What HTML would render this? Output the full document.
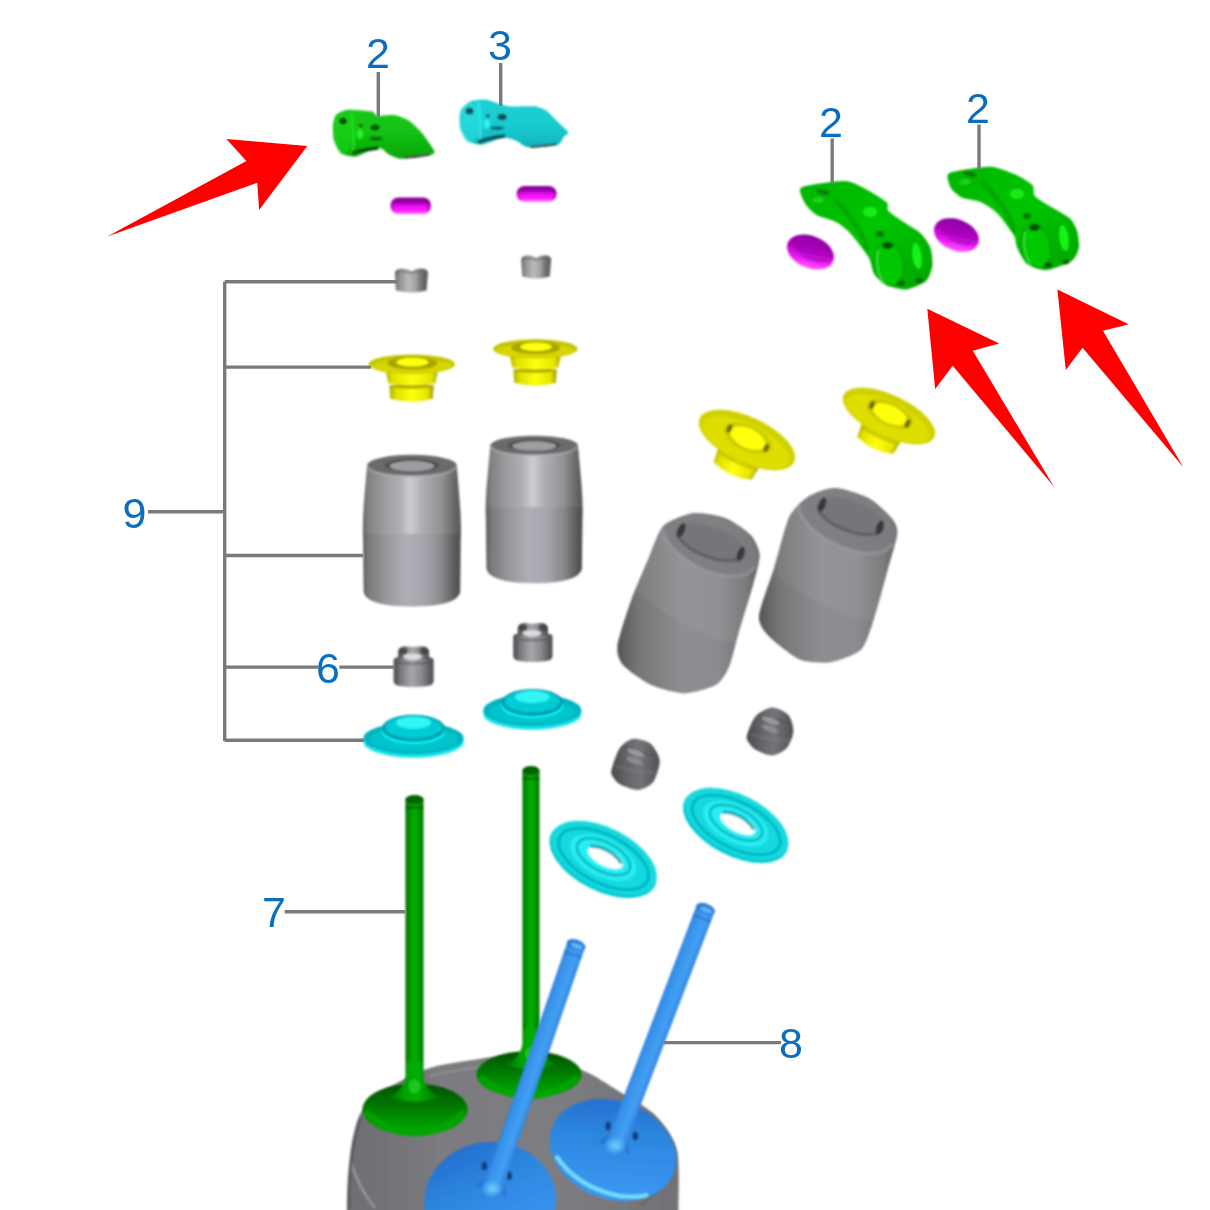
<!DOCTYPE html>
<html><head><meta charset="utf-8">
<style>
html,body{margin:0;padding:0;background:#fff;width:1210px;height:1210px;overflow:hidden}
svg{display:block}
.lbl{font-family:"Liberation Sans",sans-serif;font-size:43px;fill:#0a6ec0}
.ln{stroke:#7a7a7a;stroke-width:3.4;fill:none}
</style></head><body>
<svg width="1210" height="1210" viewBox="0 0 1210 1210">
<defs>
<filter id="bl" x="-30%" y="-60%" width="160%" height="220%"><feGaussianBlur stdDeviation="1.0"/></filter>
<filter id="blL" x="-10%" y="-10%" width="120%" height="120%" filterUnits="userSpaceOnUse"><feGaussianBlur stdDeviation="0.6"/></filter>
<filter id="bl2" x="-20%" y="-20%" width="140%" height="140%"><feGaussianBlur stdDeviation="1.5"/></filter>
<linearGradient id="gGreenV" x1="0" y1="0" x2="0" y2="1"><stop offset="0" stop-color="#18c818"/><stop offset="0.5" stop-color="#12c012"/><stop offset="1" stop-color="#0aa40a"/></linearGradient>
<linearGradient id="gCyanV" x1="0" y1="0" x2="0" y2="1"><stop offset="0" stop-color="#20d0d4"/><stop offset="0.5" stop-color="#18cccf"/><stop offset="1" stop-color="#10b4bc"/></linearGradient>
<linearGradient id="gMag" x1="0" y1="0" x2="0" y2="1"><stop offset="0" stop-color="#80008c"/><stop offset="0.3" stop-color="#a000b4"/><stop offset="0.55" stop-color="#f010f8"/><stop offset="0.8" stop-color="#ff20ff"/><stop offset="1" stop-color="#ff70ff"/></linearGradient>
<linearGradient id="gMagH" x1="0" y1="0" x2="1" y2="0"><stop offset="0" stop-color="rgba(120,0,140,0.35)"/><stop offset="0.15" stop-color="rgba(120,0,140,0)"/><stop offset="0.85" stop-color="rgba(120,0,140,0)"/><stop offset="1" stop-color="rgba(100,0,120,0.5)"/></linearGradient>
<linearGradient id="gCap" x1="0" y1="0" x2="1" y2="0"><stop offset="0" stop-color="#555"/><stop offset="0.1" stop-color="#8c8c8c"/><stop offset="0.4" stop-color="#bababa"/><stop offset="0.6" stop-color="#a8a8a8"/><stop offset="0.8" stop-color="#727272"/><stop offset="1" stop-color="#555"/></linearGradient>
<linearGradient id="gYelH" x1="0" y1="0" x2="1" y2="0"><stop offset="0" stop-color="#a8a800"/><stop offset="0.15" stop-color="#e0e000"/><stop offset="0.5" stop-color="#ffff10"/><stop offset="0.85" stop-color="#e6e600"/><stop offset="1" stop-color="#9a9a00"/></linearGradient>
<linearGradient id="gCyl" x1="0" y1="0" x2="1" y2="0"><stop offset="0" stop-color="#606060"/><stop offset="0.08" stop-color="#7c7c7c"/><stop offset="0.35" stop-color="#9a9a9a"/><stop offset="0.5" stop-color="#acacb0"/><stop offset="0.65" stop-color="#9c9c9c"/><stop offset="0.9" stop-color="#7a7a7a"/><stop offset="1" stop-color="#5a5a5a"/></linearGradient>
<linearGradient id="gCylV" x1="0" y1="0" x2="0" y2="1"><stop offset="0" stop-color="rgba(255,255,255,0.06)"/><stop offset="0.5" stop-color="rgba(255,255,255,0.05)"/><stop offset="0.52" stop-color="rgba(0,0,0,0.0)"/><stop offset="1" stop-color="rgba(0,0,0,0.04)"/></linearGradient>
<linearGradient id="gSeal" x1="0" y1="0" x2="1" y2="0"><stop offset="0" stop-color="#555"/><stop offset="0.25" stop-color="#808080"/><stop offset="0.5" stop-color="#a4a4a4"/><stop offset="0.75" stop-color="#808080"/><stop offset="1" stop-color="#505050"/></linearGradient>
<linearGradient id="gStemG" x1="0" y1="0" x2="1" y2="0"><stop offset="0" stop-color="#006c00"/><stop offset="0.3" stop-color="#00a000"/><stop offset="0.55" stop-color="#02b002"/><stop offset="1" stop-color="#007400"/></linearGradient>
<linearGradient id="gCyl2" x1="0" y1="0" x2="1" y2="0"><stop offset="0" stop-color="#5c5c5c"/><stop offset="0.06" stop-color="#7a7a7c"/><stop offset="0.25" stop-color="#9a9a9e"/><stop offset="0.45" stop-color="#aeaeb6"/><stop offset="0.62" stop-color="#a6a6ae"/><stop offset="0.8" stop-color="#8a8a8c"/><stop offset="0.93" stop-color="#5e5e5e"/><stop offset="1" stop-color="#4a4a4a"/></linearGradient>
<linearGradient id="gHi" x1="0" y1="0" x2="1" y2="0"><stop offset="0" stop-color="rgba(255,255,255,0)"/><stop offset="0.5" stop-color="rgba(255,255,255,0.35)"/><stop offset="1" stop-color="rgba(255,255,255,0)"/></linearGradient>
<linearGradient id="gSeal2" x1="0" y1="0" x2="1" y2="0"><stop offset="0" stop-color="#4a4a4c"/><stop offset="0.2" stop-color="#7e7e82"/><stop offset="0.45" stop-color="#a6a6ac"/><stop offset="0.7" stop-color="#8a8a8e"/><stop offset="1" stop-color="#4a4a4c"/></linearGradient>
<linearGradient id="gBase" x1="0" y1="0" x2="1" y2="0"><stop offset="0" stop-color="#6e6e72"/><stop offset="0.3" stop-color="#7c7c80"/><stop offset="0.6" stop-color="#7e7e82"/><stop offset="1" stop-color="#727276"/></linearGradient>
<linearGradient id="gGHead" x1="0" y1="0" x2="0" y2="1"><stop offset="0" stop-color="#005200"/><stop offset="0.35" stop-color="#007000"/><stop offset="0.7" stop-color="#009400"/><stop offset="1" stop-color="#00ac00"/></linearGradient>
<linearGradient id="gBHead" x1="0" y1="0" x2="0.4" y2="1"><stop offset="0" stop-color="#2266c8"/><stop offset="0.45" stop-color="#2c86de"/><stop offset="1" stop-color="#3c96f0"/></linearGradient>
<linearGradient id="gBStem" x1="0" y1="0" x2="1" y2="0"><stop offset="0" stop-color="#1e62c4"/><stop offset="0.3" stop-color="#3690e8"/><stop offset="0.6" stop-color="#44a0f4"/><stop offset="1" stop-color="#2068c8"/></linearGradient>
<radialGradient id="gBHi" cx="0.5" cy="0.5" r="0.5"><stop offset="0" stop-color="rgba(120,210,255,0.9)"/><stop offset="1" stop-color="rgba(120,210,255,0)"/></radialGradient>
<linearGradient id="gGreenR" x1="0" y1="0" x2="1" y2="1"><stop offset="0" stop-color="#02b402"/><stop offset="0.5" stop-color="#06c406"/><stop offset="1" stop-color="#00a400"/></linearGradient>
<linearGradient id="gMagT" x1="0" y1="0" x2="0.3" y2="1"><stop offset="0" stop-color="#7a0090"/><stop offset="0.45" stop-color="#a800b8"/><stop offset="0.8" stop-color="#e818f0"/><stop offset="1" stop-color="#ff48ff"/></linearGradient>
<linearGradient id="gCylT" x1="0" y1="0" x2="1" y2="0"><stop offset="0" stop-color="#565658"/><stop offset="0.15" stop-color="#767678"/><stop offset="0.45" stop-color="#8e8e92"/><stop offset="0.7" stop-color="#8c8c90"/><stop offset="0.9" stop-color="#747476"/><stop offset="1" stop-color="#58585a"/></linearGradient>
<clipPath id="clipT1"><path d="M662.9 526.4C668.1 521.0 685.3 514.2 692.6 513.2C699.9 512.2 718.9 515.7 725.7 518.2C732.5 520.7 746.5 530.5 750.5 534.7C754.5 538.9 759.2 548.9 759.6 554.5C760.0 560.1 756.2 573.5 753.8 582.6C751.4 591.7 741.8 622.4 738.9 632.2C736.0 642.0 731.7 660.8 729.0 667.0C726.3 673.2 721.0 682.0 715.8 685.1C710.6 688.2 691.9 693.4 684.4 693.4C676.9 693.4 658.4 688.4 651.3 685.1C644.2 681.8 627.2 669.9 623.2 665.3C619.2 660.7 616.4 653.2 617.4 645.5C618.4 637.8 627.9 609.2 631.5 599.2C635.1 589.2 644.3 568.0 648.0 559.5C651.7 551.0 657.7 531.8 662.9 526.4Z"/></clipPath>
<clipPath id="clipT2"><path d="M789.6 516.1C793.8 507.7 804.7 498.9 810.1 495.6C815.5 492.3 828.8 487.6 835.7 487.9C842.6 488.2 862.4 494.6 869.0 498.2C875.6 501.8 888.8 514.5 892.1 518.7C895.4 522.9 897.8 527.7 897.2 534.0C896.6 540.3 889.7 562.6 887.0 572.5C884.3 582.4 877.1 609.6 874.1 618.6C871.1 627.6 866.4 644.3 861.3 649.4C856.2 654.5 837.8 661.0 830.6 662.2C823.4 663.4 807.0 662.6 799.8 659.6C792.6 656.6 773.9 641.6 769.1 636.5C764.3 631.4 758.3 624.1 758.9 616.0C759.5 607.9 770.6 579.1 774.2 567.4C777.8 555.7 785.4 524.5 789.6 516.1Z"/></clipPath>
<linearGradient id="gSealT" x1="0" y1="0" x2="1" y2="0"><stop offset="0" stop-color="#4a4a4e"/><stop offset="0.4" stop-color="#6a6a6e"/><stop offset="0.6" stop-color="#747478"/><stop offset="1" stop-color="#505054"/></linearGradient>
<clipPath id="clipS3"><path d="M611.6 769.4C612.6 765.7 616.9 752.1 619.8 748.0C622.7 743.9 629.0 739.5 633.0 738.8C637.0 738.1 646.3 740.9 649.6 743.0C652.9 745.1 656.6 751.6 657.9 754.5C659.2 757.4 660.2 760.8 659.5 764.5C658.8 768.2 655.8 779.2 652.9 782.6C650.0 786.0 642.4 789.8 638.0 790.0C633.6 790.2 623.2 786.2 619.8 784.3C616.4 782.4 613.5 778.0 612.4 776.0C611.3 774.0 610.6 773.1 611.6 769.4Z"/></clipPath>
<clipPath id="clipS4"><path d="M747.1 734.7C748.1 731.4 752.1 720.1 755.4 716.5C758.7 712.9 767.5 707.6 771.9 707.4C776.3 707.2 785.5 711.7 788.4 714.9C791.3 718.1 793.6 727.0 793.4 731.4C793.2 735.8 789.7 744.7 786.8 747.9C783.9 751.1 776.1 755.2 771.9 755.4C767.7 755.6 758.6 751.5 755.4 749.6C752.2 747.7 749.0 743.3 747.9 741.3C746.8 739.3 746.1 738.0 747.1 734.7Z"/></clipPath>
</defs>
<rect width="1210" height="1210" fill="#fff"/>
<g id="parts">
<g filter="url(#bl)"><path d="M336.1 114.7C337.5 113.2 343.3 110.2 346.9 109.9C350.4 109.6 368.6 110.9 371.6 111.5C374.6 112.1 375.9 115.4 376.9 115.8C377.9 116.2 379.4 115.9 381.2 115.8C383.0 115.7 392.5 114.8 395.2 115.2C397.9 115.6 405.4 118.3 408.1 120.1C410.8 121.9 419.4 130.0 422.0 133.0C424.6 136.0 432.7 148.1 433.9 150.1C435.1 152.1 434.5 152.9 433.9 153.4C433.2 153.9 430.6 155.0 427.4 155.5C424.2 156.0 405.5 158.8 401.6 158.7C397.7 158.6 390.7 155.4 388.7 154.4C386.7 153.4 383.2 148.8 381.2 148.5C379.2 148.2 370.9 150.4 368.3 151.2C365.7 152.0 358.1 156.4 355.4 156.6C352.7 156.8 343.6 155.0 341.5 153.4C339.4 151.8 334.9 143.3 334.0 140.5C333.1 137.7 332.7 128.0 332.9 125.4C333.1 122.8 334.7 116.2 336.1 114.7Z" fill="url(#gGreenV)"/><ellipse cx="343" cy="134" rx="9" ry="20" fill="#22e022" opacity="0.45"/><ellipse cx="343" cy="121" rx="4" ry="3.5" fill="#064e06"/><path d="M351 113 Q356 134 352 154" stroke="#22e622" stroke-width="3" fill="none" opacity="0.7"/><ellipse cx="375" cy="127.5" rx="4.5" ry="3" fill="#064e06"/><ellipse cx="361" cy="125.5" rx="2" ry="1.8" fill="#0a5a0a"/><ellipse cx="376" cy="138.5" rx="6.5" ry="2" fill="#0a6a0a"/><ellipse cx="360" cy="134" rx="3" ry="5" fill="#30ff30" opacity="0.8"/><path d="M352 153 Q365 149 378 148" stroke="#064a06" stroke-width="3.5" fill="none"/><path d="M404 157.5 Q418 157 430 154.5" stroke="#3a3a3a" stroke-width="1.8" fill="none"/></g>
<g filter="url(#bl)"><path d="M461.8 108.6C463.0 107.1 469.1 102.0 471.5 101.1C473.9 100.2 482.5 99.2 485.4 99.5C488.3 99.8 498.0 103.6 500.5 104.3C503.0 105.0 506.7 106.3 510.2 106.5C513.7 106.7 532.2 106.1 535.9 106.5C539.5 106.9 544.6 109.3 546.7 110.8C548.9 112.3 555.2 119.3 557.4 121.5C559.5 123.7 567.6 130.8 568.2 132.3C568.9 133.8 565.0 135.3 563.9 136.6C562.8 137.9 560.9 144.1 557.4 145.2C553.9 146.3 532.5 147.7 528.4 147.3C524.3 146.9 519.1 141.9 516.6 140.9C514.1 139.9 507.1 137.2 503.7 137.6C500.3 138.0 485.7 144.3 482.2 144.6C478.7 144.9 470.5 142.6 468.3 140.9C466.1 139.2 461.1 130.5 460.2 128.0C459.3 125.5 459.5 118.0 459.7 116.1C459.9 114.2 460.6 110.1 461.8 108.6Z" fill="url(#gCyanV)"/><ellipse cx="470" cy="123" rx="10" ry="20" fill="#30e6e6" opacity="0.45"/><ellipse cx="469.5" cy="111" rx="4" ry="3.5" fill="#0a4e5a"/><path d="M478 102 Q483 124 479 143" stroke="#30f0f0" stroke-width="3" fill="none" opacity="0.7"/><ellipse cx="502" cy="117" rx="4.5" ry="3.2" fill="#0a4450"/><ellipse cx="488" cy="116" rx="2" ry="1.8" fill="#0a5a66"/><ellipse cx="497" cy="128" rx="7" ry="2" fill="#0a6a76"/><ellipse cx="487" cy="124" rx="3" ry="5" fill="#40ffff" opacity="0.7"/><path d="M478 142 Q492 137 505 136" stroke="#0a4050" stroke-width="3.5" fill="none"/><path d="M530 147 Q545 146 556 144" stroke="#3a3a3a" stroke-width="1.8" fill="none"/></g>
<g filter="url(#bl)"><rect x="390.5" y="197.5" width="40.5" height="16.5" rx="8" ry="8" fill="url(#gMag)"/><rect x="390.5" y="197.5" width="40.5" height="16.5" rx="8" ry="8" fill="url(#gMagH)"/></g>
<g filter="url(#bl)"><rect x="516.6" y="186" width="40" height="15.7" rx="8" ry="7.8" fill="url(#gMag)"/><rect x="516.6" y="186" width="40" height="15.7" rx="8" ry="7.8" fill="url(#gMagH)"/></g>
<g filter="url(#bl)"><path d="M395 272.6 Q396 268.1 403.25 268.6 Q409.85 269.1 411.5 271.6 Q413.15 269.1 419.75 268.6 Q427 268.1 428 272.6 L426.5 290.6 Q411.5 294.6 396 290.6Z" fill="url(#gCap)"/><path d="M396 272.6 Q403.25 269.6 411.5 273.1 Q419.75 269.6 427 272.6" stroke="#666" stroke-width="2" fill="none" opacity="0.7"/></g>
<g filter="url(#bl)"><path d="M521.3 259.3 Q522.3 254.8 528.775 255.3 Q534.755 255.8 536.25 258.3 Q537.745 255.8 543.725 255.3 Q550.2 254.8 551.2 259.3 L549.7 276.4 Q536.25 280.4 522.3 276.4Z" fill="url(#gCap)"/><path d="M522.3 259.3 Q528.775 256.3 536.25 259.8 Q543.725 256.3 550.2 259.3" stroke="#666" stroke-width="2" fill="none" opacity="0.7"/></g>
<g filter="url(#bl)"><path d="M389.3 385.3 L433.8 385.3 L432.8 398.8 Q411.8 404.8 390.3 398.8Z" fill="url(#gYelH)"/><ellipse cx="411.8" cy="386.3" rx="22.0" ry="2.5" fill="#b0b000"/><path d="M384.3 364.3 L439.3 364.3 L435.3 383.3 Q411.8 387.3 388.3 383.3Z" fill="url(#gYelH)"/><ellipse cx="411.8" cy="364.3" rx="43.2" ry="9.8" fill="#c4c400"/><ellipse cx="411.8" cy="366.3" rx="40.2" ry="7.300000000000001" fill="#e4e400" opacity="0.55"/><ellipse cx="412.3" cy="363.1" rx="25.0" ry="6.5" fill="#a8a400"/><ellipse cx="412.5" cy="362.1" rx="16.0" ry="4.4" fill="#ffff10"/></g>
<g filter="url(#bl)"><path d="M513.25 369.484 L556.8599999999999 369.484 L555.8599999999999 382.654 Q535.3 388.654 514.25 382.654Z" fill="url(#gYelH)"/><ellipse cx="535.3" cy="370.484" rx="21.56" ry="2.45" fill="#b0b000"/><path d="M508.34999999999997 348.904 L562.25 348.904 L558.25 367.484 Q535.3 371.484 512.3499999999999 367.484Z" fill="url(#gYelH)"/><ellipse cx="535.3" cy="348.904" rx="42.336" ry="9.604000000000001" fill="#c4c400"/><ellipse cx="535.3" cy="350.864" rx="39.336" ry="7.104000000000001" fill="#e4e400" opacity="0.55"/><ellipse cx="535.8" cy="347.728" rx="24.5" ry="6.37" fill="#a8a400"/><ellipse cx="536.0" cy="346.748" rx="15.68" ry="4.312" fill="#ffff10"/></g>
<g filter="url(#bl)"><path d="M367.1 465.3 C364.1 500.3 362.1 520.3 363.1 540.3 L363.6 591.5 C365.1 603.5 389.5 606.5 411.9 606.5 C434.29999999999995 606.5 458.7 603.5 460.2 591.5 L460.7 540.3 C461.7 520.3 459.7 500.3 456.7 465.3 Z" fill="url(#gCyl2)"/><path d="M367.1 465.3 C364.1 500.3 362.1 520.3 363.1 533.998 L460.7 533.998 C461.7 520.3 459.7 500.3 456.7 465.3Z" fill="rgba(255,255,255,0.07)"/><rect x="399.9" y="473.3" width="22" height="60.698000000000036" fill="url(#gHi)"/><ellipse cx="411.9" cy="465.3" rx="44.79999999999998" ry="10.5" fill="#6a6a6c"/><ellipse cx="411.9" cy="465.3" rx="26.87999999999999" ry="6.51" fill="#4e4e50"/><ellipse cx="411.9" cy="466.1" rx="22.39999999999999" ry="5.25" fill="#9e9ea0"/><path d="M368.1 466.3 A43.79999999999998 10.5 0 0 0 455.7 466.3" stroke="#b4b4b8" stroke-width="2" fill="none" opacity="0.6"/></g>
<g filter="url(#bl)"><path d="M490.4 445.3 C487.09999999999997 480.3 484.9 500.3 485.9 520.3 L486.4 568.3 C487.9 580.3 512.275 583.3 534.15 583.3 C556.025 583.3 580.4 580.3 581.9 568.3 L582.4 520.3 C583.4 500.3 581.1999999999999 480.3 577.9 445.3 Z" fill="url(#gCyl2)"/><path d="M490.4 445.3 C487.09999999999997 480.3 484.9 500.3 485.9 506.95 L582.4 506.95 C583.4 500.3 581.1999999999999 480.3 577.9 445.3Z" fill="rgba(255,255,255,0.07)"/><rect x="522.15" y="453.3" width="22" height="53.64999999999998" fill="url(#gHi)"/><ellipse cx="534.15" cy="445.3" rx="43.75" ry="9.5" fill="#6a6a6c"/><ellipse cx="534.15" cy="445.3" rx="26.25" ry="5.89" fill="#4e4e50"/><ellipse cx="534.15" cy="446.1" rx="21.875" ry="4.75" fill="#9e9ea0"/><path d="M491.4 446.3 A42.75 9.5 0 0 0 576.9 446.3" stroke="#b4b4b8" stroke-width="2" fill="none" opacity="0.6"/></g>
<g filter="url(#bl)"><path d="M393.6 660.1999999999999 Q393.6 657.1999999999999 398.6 657.1999999999999 L428.6 657.1999999999999 Q433.6 657.1999999999999 433.6 660.1999999999999 L433.6 681 Q433.6 685 427.6 686 Q413.6 688 399.6 686 Q393.6 685 393.6 681Z" fill="url(#gSeal2)"/><path d="M398.1 659.1999999999999 L398.1 651.8 Q399.1 645.8 407.40000000000003 646.3 Q413.6 647.8 419.8 646.3 Q428.1 645.8 429.1 651.8 L429.1 659.1999999999999Z" fill="url(#gSeal2)"/><ellipse cx="403.1" cy="650.8" rx="4.5" ry="3.5" fill="#3c3c3e" opacity="0.8"/><ellipse cx="424.1" cy="650.8" rx="4.5" ry="3.5" fill="#3c3c3e" opacity="0.8"/><ellipse cx="412.6" cy="656.6999999999999" rx="9.299999999999999" ry="3.2" fill="#dcdcde"/><path d="M394.6 662.1999999999999 Q413.6 665.1999999999999 432.6 662.1999999999999" stroke="#555" stroke-width="2" fill="none" opacity="0.6"/></g>
<g filter="url(#bl)"><path d="M513.2 636.8 Q513.2 633.8 518.2 633.8 L547.5 633.8 Q552.5 633.8 552.5 636.8 L552.5 656 Q552.5 660 546.5 661 Q532.85 663 519.2 661 Q513.2 660 513.2 656Z" fill="url(#gSeal2)"/><path d="M517.7 635.8 L517.7 628.4 Q518.7 622.4 526.7900000000001 622.9 Q532.85 624.4 538.91 622.9 Q547.0 622.4 548.0 628.4 L548.0 635.8Z" fill="url(#gSeal2)"/><ellipse cx="522.7" cy="627.4" rx="4.5" ry="3.5" fill="#3c3c3e" opacity="0.8"/><ellipse cx="543.0" cy="627.4" rx="4.5" ry="3.5" fill="#3c3c3e" opacity="0.8"/><ellipse cx="531.85" cy="633.3" rx="9.089999999999986" ry="3.2" fill="#dcdcde"/><path d="M514.2 638.8 Q532.85 641.8 551.5 638.8" stroke="#555" stroke-width="2" fill="none" opacity="0.6"/></g>
<g filter="url(#bl)"><ellipse cx="413.5" cy="741.7" rx="50.10000000000002" ry="16" fill="#18e4ea"/><ellipse cx="413.5" cy="738.2" rx="50.10000000000002" ry="16" fill="#00b4c0"/><ellipse cx="413.5" cy="739.7" rx="44.10000000000002" ry="12" fill="#00c4cc"/><ellipse cx="413.5" cy="731.3" rx="32.064000000000014" ry="13" fill="#08f0f2"/><ellipse cx="413.5" cy="728.3" rx="31.563000000000013" ry="13.5" fill="#009cac"/><ellipse cx="413.5" cy="727.3" rx="28.056000000000015" ry="11" fill="#00ccd4"/><ellipse cx="413.5" cy="722.5999999999999" rx="17.535000000000007" ry="6.2" fill="#30f6f6"/></g>
<g filter="url(#bl)"><ellipse cx="532.35" cy="713.8" rx="49.04999999999998" ry="16" fill="#18e4ea"/><ellipse cx="532.35" cy="710.3" rx="49.04999999999998" ry="16" fill="#00b4c0"/><ellipse cx="532.35" cy="711.8" rx="43.04999999999998" ry="12" fill="#00c4cc"/><ellipse cx="532.35" cy="705.5" rx="31.39199999999999" ry="13" fill="#08f0f2"/><ellipse cx="532.35" cy="702.5" rx="30.901499999999988" ry="13.5" fill="#009cac"/><ellipse cx="532.35" cy="701.5" rx="27.467999999999993" ry="11" fill="#00ccd4"/><ellipse cx="532.35" cy="696.8" rx="17.167499999999993" ry="6.2" fill="#30f6f6"/></g>
<g filter="url(#bl)"><path d="M346.8 1212.0C346.9 1208.0 347.0 1190.7 347.6 1181.8C348.2 1172.9 349.7 1154.6 351.4 1145.5C353.1 1136.4 356.2 1120.9 360.5 1113.6C364.8 1106.3 374.6 1097.0 383.4 1091.0C392.2 1085.0 415.2 1073.0 426.8 1068.9C438.4 1064.8 459.4 1061.9 470.2 1060.2C481.0 1058.5 497.2 1055.7 507.8 1055.9C518.4 1056.1 539.6 1059.9 550.0 1062.0C560.4 1064.1 576.9 1068.0 585.9 1071.8C594.9 1075.6 608.4 1084.8 617.7 1090.6C627.0 1096.4 647.4 1107.3 655.3 1115.2C663.2 1123.1 673.9 1137.0 677.0 1149.9C680.1 1162.8 678.2 1203.7 678.4 1212.0Z" fill="url(#gBase)"/><path d="M351 1163 Q360 1190 375 1208" stroke="#96969a" stroke-width="2.5" fill="none"/><path d="M349 1210 Q349 1150 361 1117" stroke="#55555a" stroke-width="2" fill="none"/><path d="M430 1076 Q470 1066 520 1064" stroke="#a0a0a0" stroke-width="2" fill="none" opacity="0.6"/><path d="M640 1205 Q665 1190 676 1160" stroke="#666" stroke-width="2" fill="none"/></g>
<g filter="url(#bl)"><ellipse cx="415" cy="1109.5" rx="52.5" ry="26" fill="url(#gGHead)"/><path d="M365.5 1112.5 Q415 1153.7 464.5 1112.5" stroke="#00a800" stroke-width="7" fill="none" opacity="0.75"/><rect x="405.5" y="798.4" width="18.0" height="281.1" fill="url(#gStemG)"/><path d="M407.0 1061.5 C407.0 1081.5 402.5 1091.5 388.5 1097.5 Q414.5 1105.5 440.5 1097.5 C426.5 1091.5 422.0 1081.5 422.0 1061.5Z" fill="url(#gStemG)"/><ellipse cx="414.5" cy="799.4" rx="9.0" ry="4.5" fill="#006400"/><rect x="405.5" y="806.4" width="18.0" height="2.5" fill="#006000" opacity="0.7"/><ellipse cx="414.5" cy="1086.5" rx="6" ry="7" fill="#30dc30" opacity="0.55"/></g>
<g filter="url(#bl)"><ellipse cx="529" cy="1074.5" rx="52.5" ry="23.5" fill="url(#gGHead)"/><path d="M479.5 1077.5 Q529 1114.45 578.5 1077.5" stroke="#00a800" stroke-width="7" fill="none" opacity="0.75"/><rect x="522.5" y="769.4" width="17.0" height="277.6" fill="url(#gStemG)"/><path d="M524.0 1029.0 C524.0 1049.0 519.0 1059.0 505.0 1065.0 Q531.0 1073.0 557.0 1065.0 C543.0 1059.0 538.0 1049.0 538.0 1029.0Z" fill="url(#gStemG)"/><ellipse cx="531.0" cy="770.4" rx="8.5" ry="4.5" fill="#006400"/><rect x="522.5" y="777.4" width="17.0" height="2.5" fill="#006000" opacity="0.7"/><ellipse cx="531.0" cy="1054.0" rx="6" ry="7" fill="#30dc30" opacity="0.55"/></g>
<g filter="url(#bl)"><ellipse cx="490" cy="1201" rx="66" ry="59" transform="rotate(-6 490 1201)" fill="url(#gBHead)"/><ellipse cx="484.4" cy="1165.9" rx="3" ry="4.5" fill="#14306a" opacity="0.8"/><ellipse cx="509.2" cy="1175.8" rx="3" ry="4.5" fill="#14306a" opacity="0.8"/><g transform="translate(577.5 941) rotate(19.022045966769667)"><path d="M-9.25 4 L9.25 4 L9.25 232.32470337350998 C9.25 250.32470337350998 12.25 258.32470337351 16.25 264.32470337351 L-16.25 264.32470337351 C-12.25 258.32470337351 -9.25 250.32470337350998 -9.25 232.32470337350998Z" fill="url(#gBStem)"/><ellipse cx="0" cy="4" rx="9.75" ry="5" fill="#2a7ad8"/><ellipse cx="1" cy="5" rx="6.25" ry="2.5" fill="#60b4f6"/><rect x="-9.25" y="13" width="18.5" height="2.5" fill="#2066c0" opacity="0.5"/></g><ellipse cx="492" cy="1189" rx="11" ry="9" fill="url(#gBHi)"/></g>
<g filter="url(#bl)"><ellipse cx="613" cy="1150" rx="65" ry="49" transform="rotate(20 613 1150)" fill="url(#gBHead)"/><path d="M556 1156 Q578 1188 620 1196 Q636 1198 648 1195" stroke="#78e6ff" stroke-width="4" fill="none" opacity="0.9"/><ellipse cx="608.2" cy="1126" rx="3" ry="4.5" fill="#14306a" opacity="0.8"/><ellipse cx="635.4" cy="1135.9" rx="3" ry="4.5" fill="#14306a" opacity="0.8"/><g transform="translate(707 905) rotate(20.89399281302663)"><path d="M-9.5 4 L9.5 4 L9.5 227.96317566660554 C9.5 245.96317566660554 12.5 253.96317566660554 16.5 259.96317566660554 L-16.5 259.96317566660554 C-12.5 253.96317566660554 -9.5 245.96317566660554 -9.5 227.96317566660554Z" fill="url(#gBStem)"/><ellipse cx="0" cy="4" rx="10.0" ry="5" fill="#2a7ad8"/><ellipse cx="1" cy="5" rx="6.5" ry="2.5" fill="#60b4f6"/><rect x="-9.5" y="13" width="19" height="2.5" fill="#2066c0" opacity="0.5"/></g><ellipse cx="615" cy="1146" rx="11" ry="9" fill="url(#gBHi)"/></g>
<g filter="url(#bl)"><path d="M800.4 188.3C802.4 185.9 816.6 184.1 822.1 183.3C827.6 182.5 842.1 180.5 847.4 181.2C852.6 181.9 862.5 187.2 867.1 189.7C871.7 192.2 884.3 199.9 886.8 202.3C889.3 204.8 886.2 208.4 888.2 210.7C890.2 213.0 899.8 219.4 903.6 222.0C907.4 224.6 917.4 230.2 920.5 233.2C923.6 236.2 928.9 243.5 930.3 247.3C931.7 251.1 932.9 261.6 932.4 265.5C931.9 269.4 929.1 278.2 926.1 281.0C923.1 283.8 911.0 288.9 906.4 289.4C901.8 289.9 890.6 287.0 886.8 285.2C883.0 283.4 876.2 277.3 874.1 274.0C872.0 270.7 871.3 261.9 868.5 257.1C865.7 252.3 854.0 237.3 850.2 233.2C846.4 229.1 840.1 224.1 836.2 222.0C832.3 219.9 820.1 217.1 816.5 215.0C812.9 212.9 807.2 206.8 805.3 203.7C803.4 200.6 798.4 190.7 800.4 188.3Z" fill="url(#gGreenR)"/><ellipse cx="823" cy="192" rx="7" ry="2.5" fill="#0a7a0a" transform="rotate(15 823 192)"/><ellipse cx="818" cy="200" rx="6" ry="3" fill="#30e030" opacity="0.6"/><ellipse cx="870" cy="212" rx="7" ry="5" fill="#20ff20" opacity="0.7"/><path d="M835 200 Q858 222 868 250" stroke="#049004" stroke-width="5" fill="none" opacity="0.5"/><ellipse cx="880" cy="234" rx="4" ry="3" fill="#065a06" opacity="0.8"/><ellipse cx="889" cy="264" rx="14" ry="22" transform="rotate(-12 889 264)" fill="#06c806" stroke="#0a9a0a" stroke-width="1.6"/><path d="M878 250 Q874 268 884 284" stroke="#40f040" stroke-width="2" fill="none" opacity="0.7"/><ellipse cx="887.6" cy="245.5" rx="5.5" ry="3.5" fill="#045004"/><ellipse cx="917" cy="256" rx="4.5" ry="13" transform="rotate(-8 917 256)" fill="#18ff18" opacity="0.85"/><ellipse cx="901" cy="283" rx="4" ry="2.5" fill="#033a03" opacity="0.8"/><ellipse cx="919" cy="280" rx="3.5" ry="2.5" fill="#033a03" opacity="0.7"/></g>
<g filter="url(#bl)"><path d="M948.1 173.9C950.2 171.7 964.0 169.8 969.2 169.0C974.5 168.2 987.7 166.2 993.1 166.9C998.5 167.6 1010.9 172.5 1015.5 174.6C1020.1 176.7 1030.1 182.6 1032.4 185.1C1034.7 187.6 1032.6 193.6 1035.2 196.4C1037.8 199.2 1050.8 206.4 1054.9 209.0C1059.0 211.6 1067.7 216.2 1070.3 218.8C1072.9 221.4 1076.3 228.1 1077.3 231.5C1078.3 234.9 1079.5 244.9 1078.8 248.3C1078.1 251.7 1075.5 258.5 1071.7 261.0C1067.9 263.5 1051.6 269.8 1046.4 270.1C1041.2 270.4 1030.2 266.5 1026.8 263.8C1023.4 261.1 1018.4 250.2 1016.9 246.9C1015.4 243.6 1016.4 239.6 1014.1 235.7C1011.8 231.8 1001.2 217.1 997.3 213.2C993.4 209.3 984.5 203.8 980.4 202.0C976.3 200.2 965.5 199.4 962.1 197.8C958.7 196.2 952.5 190.8 950.9 188.0C949.3 185.2 946.0 176.1 948.1 173.9Z" fill="url(#gGreenR)"/><ellipse cx="970" cy="174" rx="7" ry="2.5" fill="#0a7a0a" transform="rotate(15 970 174)"/><ellipse cx="965" cy="182" rx="6" ry="3" fill="#30e030" opacity="0.6"/><ellipse cx="1017" cy="194" rx="7" ry="5" fill="#20ff20" opacity="0.7"/><path d="M982 182 Q1005 204 1015 232" stroke="#049004" stroke-width="5" fill="none" opacity="0.5"/><ellipse cx="1027" cy="216" rx="4" ry="3" fill="#065a06" opacity="0.8"/><ellipse cx="1036" cy="246" rx="14" ry="22" transform="rotate(-12 1036 246)" fill="#06c806" stroke="#0a9a0a" stroke-width="1.6"/><path d="M1025 232 Q1021 250 1031 266" stroke="#40f040" stroke-width="2" fill="none" opacity="0.7"/><ellipse cx="1034.6" cy="227.5" rx="5.5" ry="3.5" fill="#045004"/><ellipse cx="1064" cy="238" rx="4.5" ry="13" transform="rotate(-8 1064 238)" fill="#18ff18" opacity="0.85"/><ellipse cx="1048" cy="265" rx="4" ry="2.5" fill="#033a03" opacity="0.8"/><ellipse cx="1066" cy="262" rx="3.5" ry="2.5" fill="#033a03" opacity="0.7"/></g>
<g filter="url(#bl)"><ellipse cx="810.5" cy="252" rx="24.5" ry="16" transform="rotate(22 810.5 252)" fill="url(#gMagT)"/><ellipse cx="812.5" cy="249" rx="20.5" ry="11" transform="rotate(22 810.5 252)" fill="#a000b4" opacity="0.5"/></g>
<g filter="url(#bl)"><ellipse cx="956.5" cy="235" rx="23.5" ry="15.5" transform="rotate(22 956.5 235)" fill="url(#gMagT)"/><ellipse cx="958.5" cy="232" rx="19.5" ry="10.5" transform="rotate(22 956.5 235)" fill="#a000b4" opacity="0.5"/></g>
<g filter="url(#bl)" transform="translate(747 440) rotate(25)"><path d="M-24.0 6 L24.0 6 L21.0 34.0 Q0 42.0 -21.0 34.0Z" fill="url(#gYelH)"/><ellipse cx="0" cy="22.0" rx="22.0" ry="4.0" fill="#b4b400" opacity="0.6"/><ellipse cx="0" cy="0" rx="52" ry="23" fill="#d0d000"/><ellipse cx="0" cy="3" rx="47" ry="19" fill="#e4e400" opacity="0.7"/><ellipse cx="0" cy="-2" rx="26.0" ry="12.65" fill="#cccc00"/><ellipse cx="0" cy="-2" rx="18.72" ry="9.66" fill="#ffff10"/><ellipse cx="-20.8" cy="-3" rx="2.5" ry="4.5" fill="#6a6a00"/><ellipse cx="20.8" cy="-1" rx="2.5" ry="4.5" fill="#6a6a00"/></g>
<g filter="url(#bl)" transform="translate(889 416) rotate(25)"><path d="M-22.799999999999997 6 L22.799999999999997 6 L19.95 32.3 Q0 39.9 -19.95 32.3Z" fill="url(#gYelH)"/><ellipse cx="0" cy="20.9" rx="20.9" ry="3.8" fill="#b4b400" opacity="0.6"/><ellipse cx="0" cy="0" rx="50" ry="21" fill="#d0d000"/><ellipse cx="0" cy="3" rx="45" ry="17" fill="#e4e400" opacity="0.7"/><ellipse cx="0" cy="-2" rx="25.0" ry="11.55" fill="#cccc00"/><ellipse cx="0" cy="-2" rx="18.0" ry="8.82" fill="#ffff10"/><ellipse cx="-20.0" cy="-3" rx="2.5" ry="4.5" fill="#6a6a00"/><ellipse cx="20.0" cy="-1" rx="2.5" ry="4.5" fill="#6a6a00"/></g>
<g filter="url(#bl)"><path d="M662.9 526.4C668.1 521.0 685.3 514.2 692.6 513.2C699.9 512.2 718.9 515.7 725.7 518.2C732.5 520.7 746.5 530.5 750.5 534.7C754.5 538.9 759.2 548.9 759.6 554.5C760.0 560.1 756.2 573.5 753.8 582.6C751.4 591.7 741.8 622.4 738.9 632.2C736.0 642.0 731.7 660.8 729.0 667.0C726.3 673.2 721.0 682.0 715.8 685.1C710.6 688.2 691.9 693.4 684.4 693.4C676.9 693.4 658.4 688.4 651.3 685.1C644.2 681.8 627.2 669.9 623.2 665.3C619.2 660.7 616.4 653.2 617.4 645.5C618.4 637.8 627.9 609.2 631.5 599.2C635.1 589.2 644.3 568.0 648.0 559.5C651.7 551.0 657.7 531.8 662.9 526.4Z" fill="url(#gCylT)"/><g clip-path="url(#clipT1)"><path d="M-90 -220 L90 -220 L90 0 A90 32 0 0 1 -90 0Z" transform="translate(700 596) rotate(28)" fill="rgba(255,255,255,0.06)"/><ellipse cx="710" cy="541" rx="53" ry="28" transform="rotate(28 710 541)" fill="#7c7c80" opacity="0.85"/><path d="M659 543 A51 27 0 0 0 761 543" transform="rotate(28 710 541)" fill="none" stroke="#9c9ca0" stroke-width="4" opacity="0.5"/></g><ellipse cx="711" cy="542" rx="37" ry="15" transform="rotate(20 711 542)" fill="#76767a"/><path d="M676 543 A35 14 0 0 0 746 543" transform="rotate(20 711 542)" fill="none" stroke="#5c5c60" stroke-width="3.5" opacity="0.8"/><g transform="rotate(20 711 542)"><ellipse cx="679" cy="541" rx="3.5" ry="7.5" fill="#38383a"/><ellipse cx="743" cy="543" rx="3.5" ry="7.5" fill="#38383a"/></g></g>
<g filter="url(#bl)"><path d="M789.6 516.1C793.8 507.7 804.7 498.9 810.1 495.6C815.5 492.3 828.8 487.6 835.7 487.9C842.6 488.2 862.4 494.6 869.0 498.2C875.6 501.8 888.8 514.5 892.1 518.7C895.4 522.9 897.8 527.7 897.2 534.0C896.6 540.3 889.7 562.6 887.0 572.5C884.3 582.4 877.1 609.6 874.1 618.6C871.1 627.6 866.4 644.3 861.3 649.4C856.2 654.5 837.8 661.0 830.6 662.2C823.4 663.4 807.0 662.6 799.8 659.6C792.6 656.6 773.9 641.6 769.1 636.5C764.3 631.4 758.3 624.1 758.9 616.0C759.5 607.9 770.6 579.1 774.2 567.4C777.8 555.7 785.4 524.5 789.6 516.1Z" fill="url(#gCylT)"/><g clip-path="url(#clipT2)"><path d="M-90 -220 L90 -220 L90 0 A90 32 0 0 1 -90 0Z" transform="translate(833 574) rotate(27)" fill="rgba(255,255,255,0.06)"/><ellipse cx="847" cy="518" rx="54" ry="28" transform="rotate(27 847 518)" fill="#7c7c80" opacity="0.85"/><path d="M795 520 A52 27 0 0 0 899 520" transform="rotate(27 847 518)" fill="none" stroke="#9c9ca0" stroke-width="4" opacity="0.5"/></g><ellipse cx="851" cy="516" rx="36" ry="15" transform="rotate(20 851 516)" fill="#76767a"/><path d="M817 517 A34 14 0 0 0 885 517" transform="rotate(20 851 516)" fill="none" stroke="#5c5c60" stroke-width="3.5" opacity="0.8"/><g transform="rotate(20 851 516)"><ellipse cx="820" cy="515" rx="3.5" ry="7.5" fill="#38383a"/><ellipse cx="882" cy="517" rx="3.5" ry="7.5" fill="#38383a"/></g></g>
<g filter="url(#bl)"><path d="M611.6 769.4C612.6 765.7 616.9 752.1 619.8 748.0C622.7 743.9 629.0 739.5 633.0 738.8C637.0 738.1 646.3 740.9 649.6 743.0C652.9 745.1 656.6 751.6 657.9 754.5C659.2 757.4 660.2 760.8 659.5 764.5C658.8 768.2 655.8 779.2 652.9 782.6C650.0 786.0 642.4 789.8 638.0 790.0C633.6 790.2 623.2 786.2 619.8 784.3C616.4 782.4 613.5 778.0 612.4 776.0C611.3 774.0 610.6 773.1 611.6 769.4Z" fill="url(#gSealT)"/><g clip-path="url(#clipS3)"><path d="M617 744 Q637 752 657 756" stroke="#58585c" stroke-width="3" fill="none" opacity="0.6"/><ellipse cx="636" cy="753" rx="9" ry="3" transform="rotate(20 637 752)" fill="#a8a8ac" opacity="0.75"/><ellipse cx="638" cy="761" rx="9" ry="3" transform="rotate(20 637 752)" fill="#9c9ca0" opacity="0.65"/><path d="M615 766 Q637 774 659 772" stroke="#8a8a8e" stroke-width="2" fill="none" opacity="0.35"/></g></g>
<g filter="url(#bl)"><path d="M747.1 734.7C748.1 731.4 752.1 720.1 755.4 716.5C758.7 712.9 767.5 707.6 771.9 707.4C776.3 707.2 785.5 711.7 788.4 714.9C791.3 718.1 793.6 727.0 793.4 731.4C793.2 735.8 789.7 744.7 786.8 747.9C783.9 751.1 776.1 755.2 771.9 755.4C767.7 755.6 758.6 751.5 755.4 749.6C752.2 747.7 749.0 743.3 747.9 741.3C746.8 739.3 746.1 738.0 747.1 734.7Z" fill="url(#gSealT)"/><g clip-path="url(#clipS4)"><path d="M752 712 Q772 720 792 724" stroke="#58585c" stroke-width="3" fill="none" opacity="0.6"/><ellipse cx="771" cy="721" rx="9" ry="3" transform="rotate(20 772 720)" fill="#a8a8ac" opacity="0.75"/><ellipse cx="773" cy="729" rx="9" ry="3" transform="rotate(20 772 720)" fill="#9c9ca0" opacity="0.65"/><path d="M750 734 Q772 742 794 740" stroke="#8a8a8e" stroke-width="2" fill="none" opacity="0.35"/></g></g>
<g filter="url(#bl)" transform="translate(604 858) rotate(27)"><ellipse cx="0" cy="2" rx="58" ry="31" fill="#00c8d0"/><ellipse cx="0" cy="0" rx="57" ry="30" fill="#12d8de"/><ellipse cx="0" cy="1" rx="49" ry="24" fill="none" stroke="#00b0bc" stroke-width="3" opacity="0.8"/><ellipse cx="-1" cy="0" rx="35.96" ry="19.22" fill="#26eef2"/><ellipse cx="-1" cy="-1" rx="29.0" ry="14.569999999999999" fill="none" stroke="#00a4b0" stroke-width="2.5" opacity="0.8"/><ellipse cx="1" cy="-1" rx="19" ry="8.5" fill="#ffffff"/><path d="M-18 -4 Q0 -13 18 -3" stroke="#00a0ac" stroke-width="3" fill="none"/></g>
<g filter="url(#bl)" transform="translate(736.6 824) rotate(27)"><ellipse cx="0" cy="2" rx="57" ry="30" fill="#00c8d0"/><ellipse cx="0" cy="0" rx="56" ry="29" fill="#12d8de"/><ellipse cx="0" cy="1" rx="48" ry="23" fill="none" stroke="#00b0bc" stroke-width="3" opacity="0.8"/><ellipse cx="-1" cy="0" rx="35.339999999999996" ry="18.6" fill="#26eef2"/><ellipse cx="-1" cy="-1" rx="28.5" ry="14.1" fill="none" stroke="#00a4b0" stroke-width="2.5" opacity="0.8"/><ellipse cx="1" cy="-1" rx="19" ry="8.5" fill="#ffffff"/><path d="M-18 -4 Q0 -13 18 -3" stroke="#00a0ac" stroke-width="3" fill="none"/></g>
</g>
<g class="ln" filter="url(#blL)">
<path d="M378.3 72V117"/>
<path d="M500.7 63V106"/>
<path d="M832.2 138.5V184"/>
<path d="M979 124.5V169"/>
<path d="M148 511.7H224.7"/>
<path d="M224.7 281.7V741"/>
<path d="M224.7 281.7H397"/>
<path d="M224.7 367.1H371"/>
<path d="M224.7 555.5H363"/>
<path d="M224.7 667.1H318"/>
<path d="M339.3 667.1H394"/>
<path d="M224.7 740.3H364"/>
<path d="M284.7 911.7H405"/>
<path d="M663.5 1042.6H781"/>
</g>
<g class="lbl">
<text x="366" y="68.2">2</text>
<text x="488" y="59.7">3</text>
<text x="819" y="137.2">2</text>
<text x="966" y="123.2">2</text>
<text x="122.5" y="528.2">9</text>
<text x="316" y="683.2">6</text>
<text x="262" y="926.7">7</text>
<text x="779" y="1057.7">8</text>
</g>
<g fill="#ff0000">
<path d="M107.3 236.4L246.4 160.9L226.4 139.1L307.3 146L259.1 210L257.3 182.7Z"/>
<path d="M927.3 308.8L999.2 343.5L972.8 350.7L1053.8 486.6L952.7 365.8L935.2 389.1Z"/>
<path d="M1057.4 289.6L1128.6 324.3L1103 330.8L1183.2 467L1082.6 347.8L1065.8 369.9Z"/>
</g>
</svg>
</body></html>
